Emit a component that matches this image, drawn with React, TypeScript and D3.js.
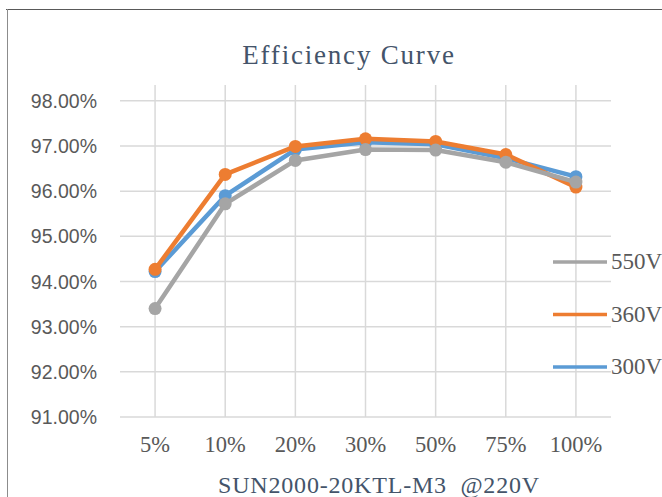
import * as d3 from 'd3';

const categories = ['5%', '10%', '20%', '30%', '50%', '75%', '100%'];
const v550 = [93.4, 95.72, 96.68, 96.92, 96.91, 96.64, 96.2];
const v360 = [94.27, 96.37, 96.99, 97.16, 97.1, 96.81, 96.09];
const v300 = [94.22, 95.9, 96.92, 97.08, 97.04, 96.73, 96.32];
const yTicks = [91, 92, 93, 94, 95, 96, 97, 98];
const yMax = 98.35;

const seriesDraw = [
  { name: '300V', values: v300, color: '#5B9BD5' },
  { name: '360V', values: v360, color: '#ED7D31' },
  { name: '550V', values: v550, color: '#A5A5A5' },
];
const legendOrder = ['550V', '360V', '300V'];

const W = 662;
const H = 497;
const plot = { left: 120, right: 611, top: 85, bottom: 417 };
const serif = '"Liberation Serif", "Times New Roman", serif';
const sans = '"Liberation Sans", Arial, sans-serif';

export default function App() {
  const x = d3.scalePoint<string>().domain(categories).range([plot.left, plot.right]).padding(0.5);
  const y = d3.scaleLinear().domain([91, yMax]).range([plot.bottom, plot.top]);
  const line = d3.line<number>()
    .x((_, i) => x(categories[i]) as number)
    .y((d) => y(d));

  const legendY = d3.scalePoint<string>().domain(legendOrder).range([262, 367]);

  return (
    <svg width={W} height={H} style={{ position: 'absolute', left: 0, top: 0 }}>
      <rect x={0} y={0} width={W} height={H} fill="#fff" />
      {/* frame */}
      <line x1={6} x2={W} y1={9.5} y2={9.5} stroke="#595959" strokeWidth={1.2} />
      <line x1={7.5} x2={7.5} y1={9} y2={H} stroke="#8c8c8c" strokeWidth={1} />

      {/* title */}
      <text x={349} y={64} textAnchor="middle" fontFamily={serif} fontSize={27}
        letterSpacing={1.8} fill="#44546A">Efficiency Curve</text>

      {/* horizontal gridlines + y labels */}
      {yTicks.map((t) => (
        <g key={t}>
          <line x1={plot.left} x2={plot.right} y1={y(t)} y2={y(t)} stroke="#D9D9D9" strokeWidth={1.5} />
          <text x={97} y={y(t)} dy="0.36em" textAnchor="end" fontFamily={sans} fontSize={19.5}
            fill="#595959">{t.toFixed(2)}%</text>
        </g>
      ))}

      {/* vertical gridlines + x labels */}
      {categories.map((c) => (
        <g key={c}>
          <line x1={x(c)} x2={x(c)} y1={y(yMax)} y2={y(91)} stroke="#D9D9D9" strokeWidth={1.5} />
          <text x={x(c)} y={452} textAnchor="middle" fontFamily={serif} fontSize={22.5}
            fill="#595959">{c}</text>
        </g>
      ))}

      {/* series */}
      {seriesDraw.map((s) => (
        <g key={s.name}>
          <path d={line(s.values) ?? ''} fill="none" stroke={s.color} strokeWidth={4.5}
            strokeLinejoin="round" />
          {s.values.map((v, i) => (
            <circle key={i} cx={x(categories[i])} cy={y(v)} r={6.5} fill={s.color} />
          ))}
        </g>
      ))}

      {/* legend */}
      {legendOrder.map((n) => {
        const s = seriesDraw.find((d) => d.name === n)!;
        const ly = legendY(n) as number;
        return (
          <g key={n}>
            <line x1={553} x2={607} y1={ly} y2={ly} stroke={s.color} strokeWidth={3.5} />
            <text x={611} y={ly + 7} fontFamily={serif} fontSize={23} fill="#595959">{n}</text>
          </g>
        );
      })}

      {/* axis title */}
      <text x={379} y={493} textAnchor="middle" fontFamily={serif} fontSize={24}
        letterSpacing={0.8} fill="#44546A" style={{ whiteSpace: 'pre' }}>SUN2000-20KTL-M3  @220V</text>
    </svg>
  );
}
